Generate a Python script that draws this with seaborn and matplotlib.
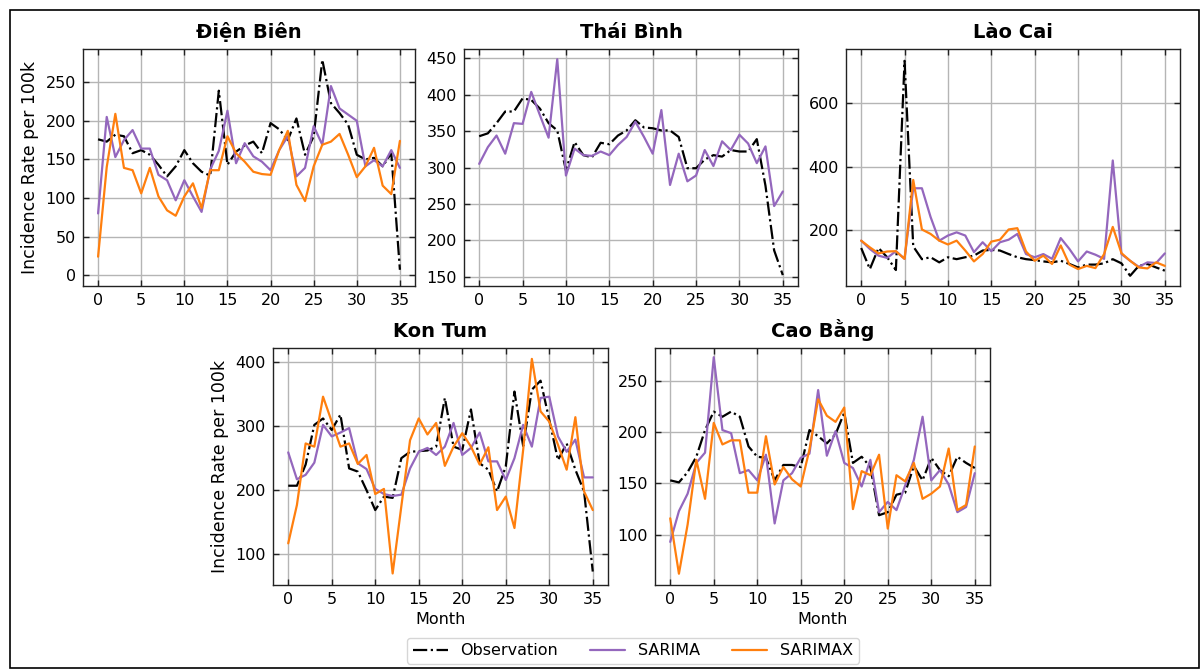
import matplotlib
matplotlib.use("Agg")
import matplotlib.pyplot as plt
from matplotlib.lines import Line2D
from matplotlib.patches import Rectangle
import numpy as np
import pandas as pd
import seaborn as sns

# Monthly incidence rate per 100k: observed values and two model fits
months = list(range(36))

dien_bien_obs = [176, 173, 182, 180, 158, 162, 156, 143, 128, 141, 162, 145, 134, 129, 239, 143,
                 160, 168, 173, 158, 197, 189, 175, 203, 156, 180, 279, 223, 210, 195, 156, 150,
                 152, 141, 158, 7]
dien_bien_sarima = [80, 205, 153, 175, 188, 164, 164, 130, 123, 97, 123, 102, 82, 137, 161, 213,
                    145, 171, 154, 147, 136, 162, 180, 128, 139, 193, 169, 245, 216, 208, 200, 141,
                    149, 141, 162, 139]
dien_bien_sarimax = [24, 140, 209, 139, 136, 106, 139, 102, 84, 77, 102, 119, 87, 136, 136, 180,
                     158, 147, 134, 131, 130, 162, 187, 117, 96, 141, 169, 173, 183, 156, 127, 141,
                     165, 116, 105, 174]

thai_binh_obs = [343, 347, 361, 377, 377, 395, 393, 381, 361, 351, 296, 335, 317, 314, 334, 332,
                 344, 351, 365, 355, 354, 351, 351, 342, 299, 299, 311, 317, 315, 324, 322, 322,
                 339, 275, 186, 152]
thai_binh_sarima = [305, 328, 344, 319, 361, 360, 404, 372, 341, 449, 289, 326, 317, 316, 322, 317,
                    331, 342, 363, 342, 319, 379, 276, 319, 281, 289, 324, 302, 336, 324, 345, 333,
                    306, 329, 247, 267]

lao_cai_obs = [145, 79, 145, 116, 76, 731, 150, 110, 116, 100, 116, 110, 116, 121, 137, 139,
               137, 126, 116, 110, 107, 103, 100, 105, 95, 84, 93, 93, 97, 110, 97, 58,
               89, 95, 84, 74]
lao_cai_sarima = [168, 142, 121, 114, 135, 111, 332, 332, 242, 168, 184, 194, 184, 132, 163, 135,
                  163, 171, 189, 126, 116, 126, 111, 176, 142, 103, 134, 124, 111, 419, 126, 105,
                  86, 100, 98, 128]
lao_cai_sarimax = [168, 147, 128, 134, 135, 111, 358, 203, 189, 168, 156, 168, 137, 103, 126, 165,
                   171, 203, 207, 134, 105, 121, 95, 153, 93, 79, 89, 82, 126, 211, 129, 105,
                   84, 81, 100, 89]

kon_tum_obs = [207, 207, 240, 302, 312, 294, 318, 234, 229, 200, 169, 190, 188, 250, 260, 261,
               262, 268, 344, 268, 263, 326, 242, 232, 198, 237, 354, 269, 357, 371, 310, 247,
               273, 232, 198, 73]
kon_tum_sarima = [259, 217, 224, 243, 302, 284, 290, 297, 242, 233, 202, 194, 191, 193, 234, 260,
                  266, 255, 268, 305, 255, 266, 290, 245, 245, 216, 250, 302, 268, 344, 346, 284,
                  260, 279, 220, 220]
kon_tum_sarimax = [117, 177, 273, 268, 346, 307, 268, 273, 241, 255, 194, 202, 70, 175, 278, 312,
                   287, 305, 238, 268, 289, 268, 240, 267, 169, 190, 141, 263, 405, 323, 307, 271,
                   232, 314, 198, 169]

cao_bang_obs = [153, 151, 161, 176, 202, 220, 215, 220, 215, 186, 176, 175, 153, 168, 168, 166,
                202, 196, 189, 198, 219, 170, 176, 166, 119, 122, 139, 141, 167, 153, 175, 163,
                157, 176, 170, 165]
cao_bang_sarima = [93, 123, 140, 170, 180, 273, 202, 199, 160, 163, 153, 178, 111, 153, 160, 175,
                   179, 241, 177, 201, 170, 165, 147, 173, 122, 132, 124, 148, 173, 215, 153, 163,
                   149, 122, 127, 160]
cao_bang_sarimax = [116, 62, 110, 173, 135, 209, 188, 192, 192, 141, 141, 196, 149, 166, 154, 147,
                    183, 232, 216, 210, 224, 125, 162, 158, 178, 106, 158, 152, 170, 135, 140, 147,
                    184, 124, 129, 186]

provinces = ["Điện Biên", "Thái Bình", "Lào Cai", "Kon Tum", "Cao Bằng"]
observed = [dien_bien_obs, thai_binh_obs, lao_cai_obs, kon_tum_obs, cao_bang_obs]
sarima = [dien_bien_sarima, thai_binh_sarima, lao_cai_sarima, kon_tum_sarima, cao_bang_sarima]
sarimax = [dien_bien_sarimax, None, lao_cai_sarimax, kon_tum_sarimax, cao_bang_sarimax]

y_ticks = [np.arange(0, 251, 50), np.arange(150, 451, 50), np.arange(200, 601, 200),
           np.arange(100, 401, 100), np.arange(100, 251, 50)]
y_limits = [(-14, 293), (137, 463), (26, 768), (52, 422), (51, 282)]

sns.set_theme(style="whitegrid")
plt.rcParams["font.family"] = ["DejaVu Sans"]
plt.rcParams.update({
    "text.color": "black",
    "axes.labelcolor": "black",
    "xtick.color": "black",
    "ytick.color": "black",
    "axes.edgecolor": "#222222",
    "axes.linewidth": 1.0,
    "grid.color": "#b5b5b5",
    "grid.linewidth": 1.0,
    "xtick.direction": "in",
    "ytick.direction": "in",
})

OBS_COLOR = "black"
SARIMA_COLOR = "#9467bd"
SARIMAX_COLOR = "#ff7f0e"
LW = 1.6
TICK_FS = 11.5
LABEL_FS = 12.5

W, H = 1201, 669
fig = plt.figure(figsize=(W / 100, H / 100), dpi=100)

# Axes rectangles in pixels: (left, top, width, height)
rects_px = [(83, 49, 332, 237), (464, 49, 334, 237), (846, 49, 334, 237),
            (273, 348, 335, 237), (655, 348, 335, 237)]

for i, name in enumerate(provinces):
    l, t, w, h = rects_px[i]
    ax = fig.add_axes([l / W, 1 - (t + h) / H, w / W, h / H])
    df = pd.DataFrame({"Month": months, "obs": observed[i], "sarima": sarima[i]})
    sns.lineplot(data=df, x="Month", y="obs", ax=ax, color=OBS_COLOR, linestyle="-.",
                 linewidth=LW, zorder=3)
    sns.lineplot(data=df, x="Month", y="sarima", ax=ax, color=SARIMA_COLOR, linewidth=LW,
                 zorder=4)
    if sarimax[i] is not None:
        df["sarimax"] = sarimax[i]
        sns.lineplot(data=df, x="Month", y="sarimax", ax=ax, color=SARIMAX_COLOR,
                     linewidth=LW, zorder=5)
    ax.set_xlim(-1.75, 36.75)
    ax.set_xticks(np.arange(0, 36, 5))
    ax.set_ylim(*y_limits[i])
    ax.set_yticks(y_ticks[i])
    ax.tick_params(axis="both", which="major", labelsize=TICK_FS, length=4, width=1,
                   color="#222222", top=True, right=True, bottom=True, left=True, pad=5)
    ax.set_title(name, fontsize=14, fontweight="bold", pad=8)
    for s in ax.spines.values():
        s.set_visible(True)
        s.set_color("#222222")
    if i in (0, 3):
        ax.set_ylabel("Incidence Rate per 100k", fontsize=LABEL_FS, labelpad=5)
    else:
        ax.set_ylabel("")
    if i >= 3:
        ax.set_xlabel("Month", fontsize=TICK_FS, labelpad=4)
    else:
        ax.set_xlabel("")

handles = [Line2D([], [], color=OBS_COLOR, linestyle="-.", linewidth=LW),
           Line2D([], [], color=SARIMA_COLOR, linewidth=LW),
           Line2D([], [], color=SARIMAX_COLOR, linewidth=LW)]
fig.legend(handles, ["Observation", "SARIMA", "SARIMAX"], loc="lower center",
           bbox_to_anchor=(0.527, -0.004), ncol=3, fontsize=TICK_FS, frameon=True,
           handlelength=2.2, columnspacing=2.0, borderpad=0.35)

fig.add_artist(Rectangle((10 / W, 1 / H), (W - 12) / W, (H - 11) / H,
                         transform=fig.transFigure, fill=False, edgecolor="black",
                         linewidth=1.2))

fig.savefig("out.png", dpi=100)
